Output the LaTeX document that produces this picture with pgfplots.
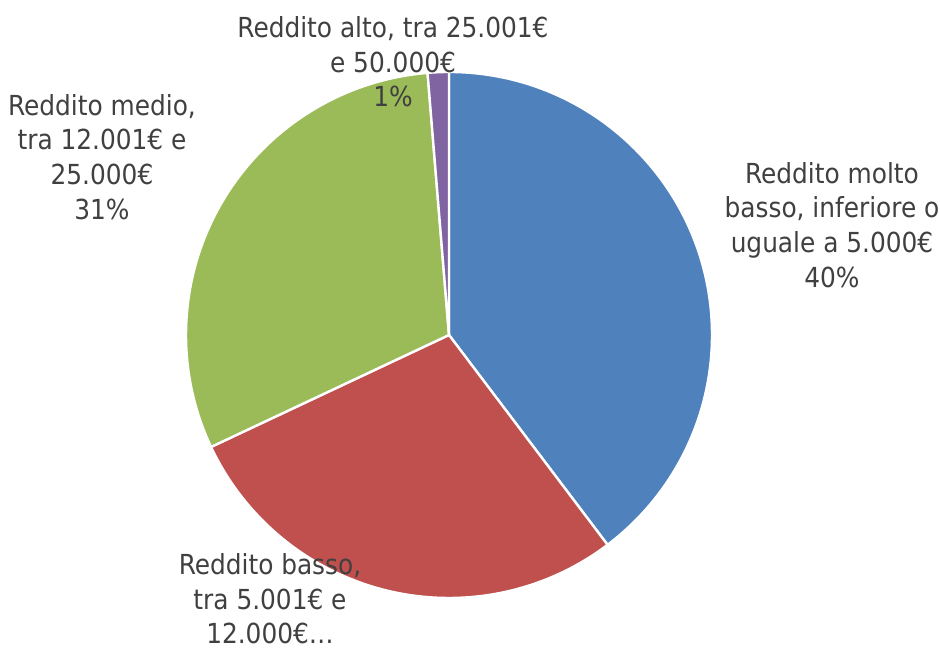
\documentclass[border=0pt]{standalone}
\usepackage{pgfplots}
\usepackage{pgfplotstable}
\pgfplotsset{compat=1.18}
\usepackage{fontspec}
\setmainfont{DejaVu Sans Condensed}
\definecolor{cblue}{HTML}{4F81BD}
\definecolor{cred}{HTML}{C0504D}
\definecolor{cgreen}{HTML}{9BBB59}
\definecolor{cpurple}{HTML}{8064A2}
\definecolor{ctext}{HTML}{404040}
\pgfplotstableread{
idx value
0 39.7
1 28.3
2 30.7
3 1.3
}\piedata
\begin{document}
\begin{tikzpicture}
\pgfplotstablegetelem{0}{value}\of\piedata \let\va\pgfplotsretval
\pgfplotstablegetelem{1}{value}\of\piedata \let\vb\pgfplotsretval
\pgfplotstablegetelem{2}{value}\of\piedata \let\vc\pgfplotsretval
\pgfplotstablegetelem{3}{value}\of\piedata \let\vd\pgfplotsretval
\pgfmathsetmacro\aS{90}
\pgfmathsetmacro\aA{\aS-3.6*\va}
\pgfmathsetmacro\aB{\aA-3.6*\vb}
\pgfmathsetmacro\aC{\aB-3.6*\vc}
\pgfmathsetmacro\aD{\aC-3.6*\vd}
\def\R{197.25pt}
\begin{axis}[
  scale only axis, width=705pt, height=486pt,
  xmin=0, xmax=940, ymin=0, ymax=648,
  hide axis, clip=false,
]
\addplot[draw=none, forget plot] coordinates {(0,0) (940,648)};
\filldraw[fill=cblue, draw=white, line width=1.8pt, line join=round] (axis cs:449,313) -- ++(\aS:\R) arc[start angle=\aS, end angle=\aA, radius=\R] -- cycle;
\filldraw[fill=cred, draw=white, line width=1.8pt, line join=round] (axis cs:449,313) -- ++(\aA:\R) arc[start angle=\aA, end angle=\aB, radius=\R] -- cycle;
\filldraw[fill=cgreen, draw=white, line width=1.8pt, line join=round] (axis cs:449,313) -- ++(\aB:\R) arc[start angle=\aB, end angle=\aC, radius=\R] -- cycle;
\filldraw[fill=cpurple, draw=white, line width=1.8pt, line join=round] (axis cs:449,313) -- ++(\aC:\R) arc[start angle=\aC, end angle=\aD, radius=\R] -- cycle;
\tikzset{lab/.style={align=center, text=ctext, font=\fontsize{20.7pt}{26pt}\selectfont, inner sep=0pt}}
\node[lab] at (axis cs:832,423) {Reddito molto\\basso, inferiore o\\uguale a 5.000€\\40\%};
\node[lab] at (axis cs:270,49) {Reddito basso,\\tra 5.001€ e\\12.000€…};
\node[lab] at (axis cs:102,491) {Reddito medio,\\tra 12.001€ e\\25.000€\\31\%};
\node[lab] at (axis cs:393,586) {Reddito alto, tra 25.001€\\e 50.000€\\1\%};
\end{axis}
\end{tikzpicture}
\end{document}
